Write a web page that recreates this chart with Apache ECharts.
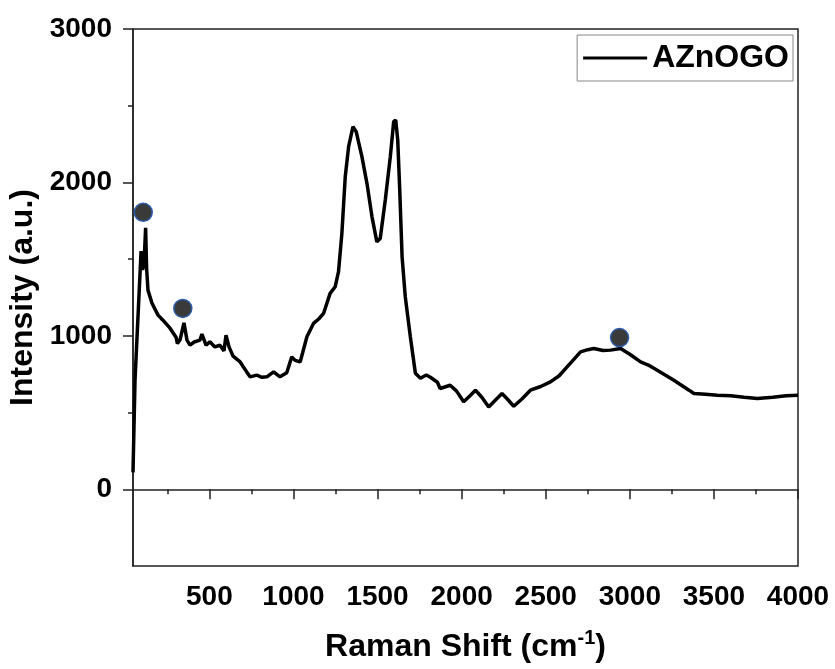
<!DOCTYPE html>
<html>
<head>
<meta charset="utf-8">
<script src="https://cdn.jsdelivr.net/npm/echarts@6/dist/echarts.min.js"></script>
<style>
html,body{margin:0;padding:0;background:#fff;}
#chart{width:835px;height:669px;}
</style>
</head>
<body>
<div id="chart"></div>
<script>
// Raman shift (cm^-1) and intensity (a.u.)
const ramanShift = [46,58,94,103,112,121,127,135,159,195,224,266,302,310,326,349,367,385,410,444,456,480,503,533,563,587,599,617,641,683,722,742,782,813,842,882,920,960,990,1010,1040,1080,1119,1150,1179,1218,1248,1268,1288,1308,1328,1354,1373,1407,1437,1467,1496,1516,1546,1576,1596,1608,1620,1632,1646,1665,1695,1725,1755,1790,1814,1856,1872,1932,1970,2012,2050,2082,2120,2161,2200,2240,2270,2310,2360,2409,2470,2528,2580,2627,2670,2707,2750,2786,2840,2885,2945,3000,3064,3110,3163,3210,3262,3352,3381,3450,3520,3600,3680,3758,3850,3930,4000];
const intensity = [110,711,1552,1430,1480,1704,1440,1298,1213,1135,1102,1050,991,950,975,1085,972,939,960,972,1011,939,961,928,939,902,1004,928,868,830,765,733,744,730,733,765,733,760,863,840,830,994,1081,1110,1146,1277,1320,1418,1668,2037,2233,2363,2331,2168,1994,1776,1613,1635,1885,2168,2396,2407,2277,1950,1515,1254,994,757,724,745,730,698,657,678,640,570,610,646,600,537,580,624,590,541,590,646,670,700,740,798,850,896,910,918,905,907,918,880,830,810,776,745,711,646,624,620,613,610,600,591,600,610,613];
const markerX = [107,342,2939];
const markerY = [1805,1179,989];
const xMajor = [500,1000,1500,2000,2500,3000,3500,4000];
const xMinor = [250,750,1250,1750,2250,2750,3250,3750];
const yMajor = [0,1000,2000,3000];
const yMinor = [500,1500,2500];
const seriesName = 'AZnOGO';

const lineData = ramanShift.map((x, i) => [x, intensity[i]]);
const markerData = markerX.map((x, i) => [x, markerY[i]]);
const FONT = "'Liberation Sans', Arial, sans-serif";
const AX = '#222';
const plain = v => String(v);

const chart = echarts.init(document.getElementById('chart'), null, {renderer: 'canvas'});
chart.setOption({
  animation: false,
  backgroundColor: '#fff',
  grid: {left: 133, right: 37, top: 29, bottom: 103, containLabel: false, outerBoundsMode: 'none',
         show: true, borderColor: AX, borderWidth: 1.5, backgroundColor: 'transparent'},
  legend: {
    data: [{name: seriesName, icon: 'rect'}],
    right: 42, top: 35,
    borderColor: '#888', borderWidth: 1, borderRadius: 0,
    padding: [7, 4, 7, 6],
    itemWidth: 64, itemHeight: 3, itemGap: 10,
    itemStyle: {color: '#000'},
    textStyle: {fontFamily: FONT, fontSize: 32, fontWeight: 'bold', color: '#000'}
  },
  xAxis: [{
    type: 'value', min: 46, max: 4000,
    axisLine: {show: true, lineStyle: {color: AX, width: 1.5}},
    axisTick: {show: true, inside: false, length: 10, customValues: xMajor, lineStyle: {color: AX, width: 1.5}},
    axisLabel: {show: true, customValues: xMajor, formatter: plain, margin: 17, fontFamily: FONT, fontSize: 28, fontWeight: 'bold', color: '#000'},
    splitLine: {show: false},
    name: '{a|Raman Shift (cm}{s|-1}{a|)}',
    nameLocation: 'middle', nameGap: 62,
    nameTextStyle: {
      fontFamily: FONT, fontSize: 32, fontWeight: 'bold', color: '#000',
      rich: {
        a: {fontFamily: FONT, fontSize: 32, fontWeight: 'bold', color: '#000', lineHeight: 38},
        s: {fontFamily: FONT, fontSize: 20, fontWeight: 'bold', color: '#000', verticalAlign: 'top', lineHeight: 20, padding: [0, 0, 14, 0]}
      }
    }
  }, {
    type: 'value', min: 46, max: 4000, position: 'bottom',
    axisLine: {show: false},
    axisTick: {show: true, inside: false, length: 5, customValues: xMinor, lineStyle: {color: AX, width: 1.5}},
    axisLabel: {show: false},
    splitLine: {show: false}
  }],
  yAxis: [{
    type: 'value', min: -500, max: 3000, position: 'left',
    axisLine: {show: true, lineStyle: {color: AX, width: 1.5}},
    axisTick: {show: true, inside: false, length: 10, customValues: yMajor, lineStyle: {color: AX, width: 1.5}},
    axisLabel: {show: true, customValues: yMajor, formatter: plain, margin: 21, fontFamily: FONT, fontSize: 28, fontWeight: 'bold', color: '#000'},
    splitLine: {show: false},
    name: 'Intensity (a.u.)',
    nameLocation: 'middle', nameGap: 70,
    nameTextStyle: {fontFamily: FONT, fontSize: 32, fontWeight: 'bold', color: '#000'}
  }, {
    type: 'value', min: -500, max: 3000, position: 'left', offset: 0,
    axisLine: {show: false},
    axisTick: {show: true, inside: false, length: 5, customValues: yMinor, lineStyle: {color: AX, width: 1.5}},
    axisLabel: {show: false},
    splitLine: {show: false}
  }],
  series: [{
    name: seriesName, type: 'line', data: lineData,
    xAxisIndex: 0, yAxisIndex: 0,
    symbol: 'none', smooth: false,
    lineStyle: {color: '#000', width: 3.5},
    itemStyle: {color: '#000'},
    z: 2
  }, {
    name: 'markers', type: 'scatter', data: markerData,
    xAxisIndex: 0, yAxisIndex: 0,
    symbol: 'circle', symbolSize: 18,
    itemStyle: {color: '#3a3a3a', borderColor: '#2d5ca8', borderWidth: 1.5, opacity: 1},
    z: 3
  }]
});
</script>
</body>
</html>
